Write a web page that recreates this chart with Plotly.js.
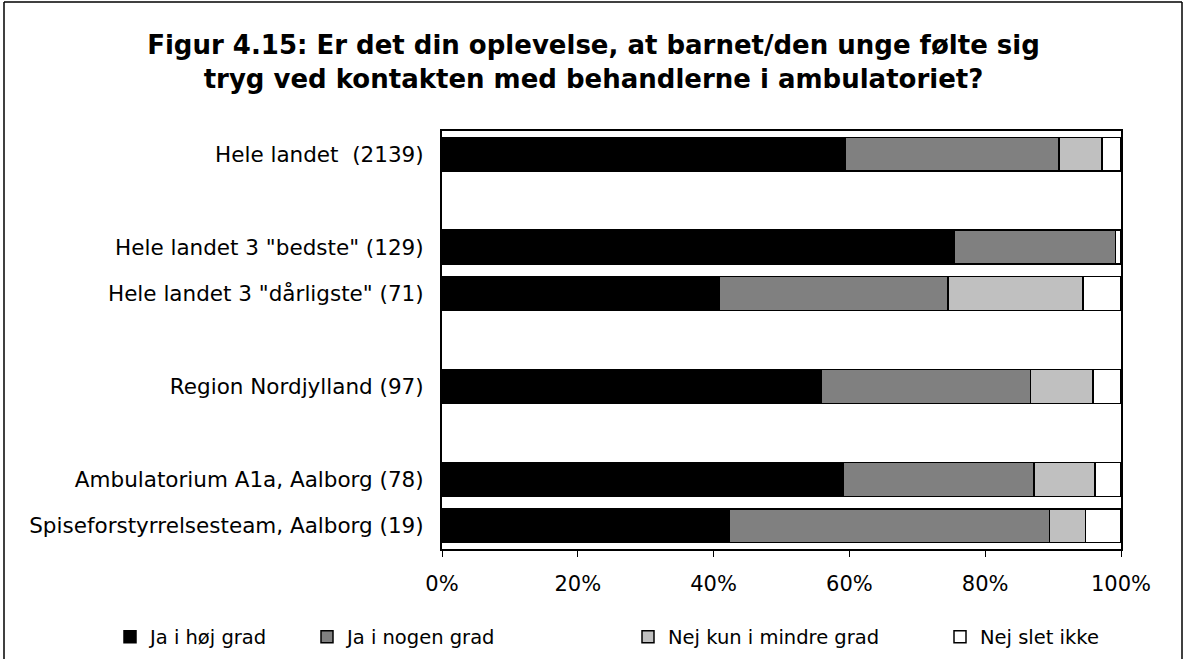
<!DOCTYPE html>
<html>
<head>
<meta charset="utf-8">
<script src="https://cdn.plot.ly/plotly-3.0.1.min.js"></script>
<style>
  html, body { margin: 0; padding: 0; background: #fff; }
  #chart { width: 1187px; height: 659px; }
</style>
</head>
<body>
<div id="chart"></div>
<script>
// Categories (top to bottom); blank placeholders are empty rows in the chart
const rows = [
  'Hele landet  (2139)',
  ' ',
  'Hele landet 3 "bedste" (129)',
  'Hele landet 3 "dårligste" (71)',
  '  ',
  'Region Nordjylland (97)',
  '   ',
  'Ambulatorium A1a, Aalborg (78)',
  'Spiseforstyrrelsesteam, Aalborg (19)'
];
const categories = [
  'Hele landet  (2139)',
  'Hele landet 3 "bedste" (129)',
  'Hele landet 3 "dårligste" (71)',
  'Region Nordjylland (97)',
  'Ambulatorium A1a, Aalborg (78)',
  'Spiseforstyrrelsesteam, Aalborg (19)'
];
const seriesNames = ['Ja i høj grad', 'Ja i nogen grad', 'Nej kun i mindre grad', 'Nej slet ikke'];
const jaHoej   = [59.4, 75.4, 40.9, 55.8, 59.1, 42.3];
const jaNogen  = [31.5, 23.8, 33.6, 30.9, 28.1, 47.2];
const nejMindre= [6.3,  0.0,  19.9, 9.2,  9.0,  5.3];
const nejSlet  = [2.8,  0.8,  5.6,  4.1,  3.8,  5.2];
const colors = ['#000000', '#808080', '#c0c0c0', '#ffffff'];
const tickVals = [0, 20, 40, 60, 80, 100];
const tickText = tickVals.map(v => v + '%');

const values = [jaHoej, jaNogen, nejMindre, nejSlet];
const legendIds = ['legend', 'legend2', 'legend3', 'legend4'];
const legendX = [110, 307, 628, 940];

const traces = values.map((v, i) => ({
  type: 'bar',
  orientation: 'h',
  name: seriesNames[i],
  x: v,
  y: categories,
  marker: { color: colors[i], line: { color: '#000000', width: 1.5 } },
  legend: legendIds[i],
  hoverinfo: 'name+x'
}));

const font = { family: 'DejaVu Sans, Verdana, sans-serif', color: '#000000' };

const layout = {
  width: 1187,
  height: 659,
  paper_bgcolor: '#ffffff',
  plot_bgcolor: '#ffffff',
  barmode: 'stack',
  bargap: 0.27,
  margin: { l: 442, r: 66, t: 131, b: 110 },
  font: Object.assign({ size: 21 }, font),
  title: {
    text: 'Figur 4.15: Er det din oplevelse, at barnet/den unge følte sig<br>tryg ved kontakten med behandlerne i ambulatoriet?',
    font: Object.assign({ size: 26, weight: 'bold' }, font),
    x: 0.5, xref: 'container', xanchor: 'center',
    y: 1 - 54 / 659, yref: 'container', yanchor: 'middle'
  },
  xaxis: {
    range: [0, 100],
    tickvals: tickVals,
    ticktext: tickText,
    ticks: 'outside', ticklen: 6, tickwidth: 1, tickcolor: '#000',
    ticklabelstandoff: 9,
    showgrid: false, zeroline: false,
    showline: true, linecolor: '#000', linewidth: 2, mirror: true,
    tickfont: Object.assign({ size: 21 }, font),
    fixedrange: true
  },
  yaxis: {
    type: 'category',
    categoryorder: 'array',
    categoryarray: rows,
    autorange: 'reversed',
    ticks: '',
    ticklabelstandoff: 12,
    showgrid: false, zeroline: false,
    showline: true, linecolor: '#000', linewidth: 2, mirror: true,
    tickfont: Object.assign({ size: 21.5 }, font),
    fixedrange: true
  },
  showlegend: true,
  shapes: [
    // outer chart frame (left, top, right edges)
    { type: 'line', xref: 'paper', yref: 'paper',
      x0: (4 - 442) / 679, x1: (4 - 442) / 679, y0: 1 + (131 - 2) / 418, y1: -(659 - 549) / 418 - 0.01,
      line: { color: '#000', width: 1.5 } },
    { type: 'line', xref: 'paper', yref: 'paper',
      x0: (4 - 442) / 679, x1: (1182 - 442) / 679, y0: 1 + (131 - 2) / 418, y1: 1 + (131 - 2) / 418,
      line: { color: '#000', width: 1.5 } },
    { type: 'line', xref: 'paper', yref: 'paper',
      x0: (1182 - 442) / 679, x1: (1182 - 442) / 679, y0: 1 + (131 - 2) / 418, y1: -(659 - 549) / 418 - 0.01,
      line: { color: '#000', width: 1.5 } }
  ]
};

legendIds.forEach((id, i) => {
  layout[id] = {
    xref: 'container', yref: 'container',
    x: legendX[i] / 1187, xanchor: 'left',
    y: 1 - 637 / 659, yanchor: 'middle',
    orientation: 'h',
    bgcolor: 'rgba(0,0,0,0)',
    itemwidth: 30,
    font: Object.assign({ size: 19.5 }, font)
  };
});

Plotly.newPlot('chart', traces, layout, { displayModeBar: false, staticPlot: true });
</script>
</body>
</html>
